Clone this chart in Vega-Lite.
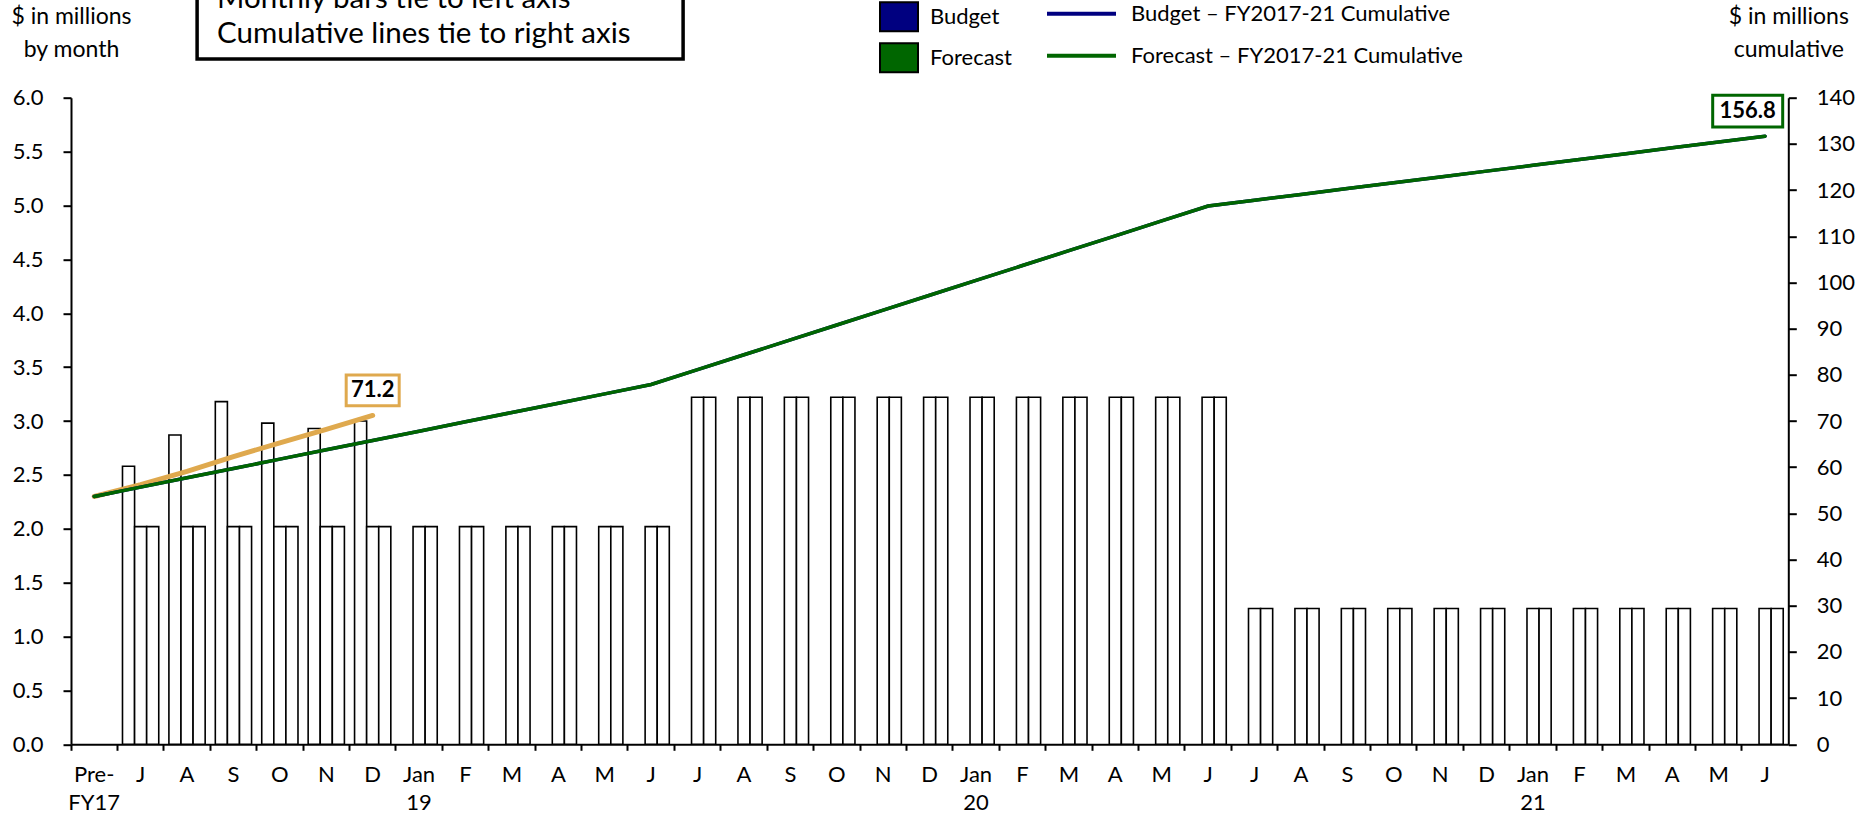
{
  "$schema": "https://vega.github.io/schema/vega-lite/v6.json",
  "width": 1717.3,
  "height": 646.6,
  "autosize": {"type": "none"},
  "padding": {"left": 71, "top": 97.7, "right": 69.7, "bottom": 72.7},
  "background": "white",
  "config": {
    "view": {"stroke": null},
    "font": "Lato",
    "axis": {
      "labelFont": "Lato", "labelColor": "black", "labelFontSize": 22,
      "titleFont": "Lato", "titleColor": "black", "titleFontSize": 23, "titleFontWeight": "normal",
      "domainColor": "black", "domainWidth": 2, "tickColor": "black", "tickWidth": 2,
      "grid": false, "labelOverlap": false, "labelFlush": false, "labelBound": false
    },
    "legend": {"labelFont": "Lato", "labelColor": "black", "labelFontSize": 22, "labelLimit": 600, "padding": 0}
  },
  "datasets": {
    "bars": [
      {"m": "J_Jul18", "s": "Actual", "v": 2.58},
      {"m": "A_Aug18", "s": "Actual", "v": 2.87},
      {"m": "S_Sep18", "s": "Actual", "v": 3.18},
      {"m": "O_Oct18", "s": "Actual", "v": 2.98},
      {"m": "N_Nov18", "s": "Actual", "v": 2.93},
      {"m": "D_Dec18", "s": "Actual", "v": 3.0},
      {"m": "J_Jul18", "s": "Budget", "v": 2.02}, {"m": "J_Jul18", "s": "Forecast", "v": 2.02},
      {"m": "A_Aug18", "s": "Budget", "v": 2.02}, {"m": "A_Aug18", "s": "Forecast", "v": 2.02},
      {"m": "S_Sep18", "s": "Budget", "v": 2.02}, {"m": "S_Sep18", "s": "Forecast", "v": 2.02},
      {"m": "O_Oct18", "s": "Budget", "v": 2.02}, {"m": "O_Oct18", "s": "Forecast", "v": 2.02},
      {"m": "N_Nov18", "s": "Budget", "v": 2.02}, {"m": "N_Nov18", "s": "Forecast", "v": 2.02},
      {"m": "D_Dec18", "s": "Budget", "v": 2.02}, {"m": "D_Dec18", "s": "Forecast", "v": 2.02},
      {"m": "Jan 19_Jan19", "s": "Budget", "v": 2.02}, {"m": "Jan 19_Jan19", "s": "Forecast", "v": 2.02},
      {"m": "F_Feb19", "s": "Budget", "v": 2.02}, {"m": "F_Feb19", "s": "Forecast", "v": 2.02},
      {"m": "M_Mar19", "s": "Budget", "v": 2.02}, {"m": "M_Mar19", "s": "Forecast", "v": 2.02},
      {"m": "A_Apr19", "s": "Budget", "v": 2.02}, {"m": "A_Apr19", "s": "Forecast", "v": 2.02},
      {"m": "M_May19", "s": "Budget", "v": 2.02}, {"m": "M_May19", "s": "Forecast", "v": 2.02},
      {"m": "J_Jun19", "s": "Budget", "v": 2.02}, {"m": "J_Jun19", "s": "Forecast", "v": 2.02},
      {"m": "J_Jul19", "s": "Budget", "v": 3.22}, {"m": "J_Jul19", "s": "Forecast", "v": 3.22},
      {"m": "A_Aug19", "s": "Budget", "v": 3.22}, {"m": "A_Aug19", "s": "Forecast", "v": 3.22},
      {"m": "S_Sep19", "s": "Budget", "v": 3.22}, {"m": "S_Sep19", "s": "Forecast", "v": 3.22},
      {"m": "O_Oct19", "s": "Budget", "v": 3.22}, {"m": "O_Oct19", "s": "Forecast", "v": 3.22},
      {"m": "N_Nov19", "s": "Budget", "v": 3.22}, {"m": "N_Nov19", "s": "Forecast", "v": 3.22},
      {"m": "D_Dec19", "s": "Budget", "v": 3.22}, {"m": "D_Dec19", "s": "Forecast", "v": 3.22},
      {"m": "Jan 20_Jan20", "s": "Budget", "v": 3.22}, {"m": "Jan 20_Jan20", "s": "Forecast", "v": 3.22},
      {"m": "F_Feb20", "s": "Budget", "v": 3.22}, {"m": "F_Feb20", "s": "Forecast", "v": 3.22},
      {"m": "M_Mar20", "s": "Budget", "v": 3.22}, {"m": "M_Mar20", "s": "Forecast", "v": 3.22},
      {"m": "A_Apr20", "s": "Budget", "v": 3.22}, {"m": "A_Apr20", "s": "Forecast", "v": 3.22},
      {"m": "M_May20", "s": "Budget", "v": 3.22}, {"m": "M_May20", "s": "Forecast", "v": 3.22},
      {"m": "J_Jun20", "s": "Budget", "v": 3.22}, {"m": "J_Jun20", "s": "Forecast", "v": 3.22},
      {"m": "J_Jul20", "s": "Budget", "v": 1.26}, {"m": "J_Jul20", "s": "Forecast", "v": 1.26},
      {"m": "A_Aug20", "s": "Budget", "v": 1.26}, {"m": "A_Aug20", "s": "Forecast", "v": 1.26},
      {"m": "S_Sep20", "s": "Budget", "v": 1.26}, {"m": "S_Sep20", "s": "Forecast", "v": 1.26},
      {"m": "O_Oct20", "s": "Budget", "v": 1.26}, {"m": "O_Oct20", "s": "Forecast", "v": 1.26},
      {"m": "N_Nov20", "s": "Budget", "v": 1.26}, {"m": "N_Nov20", "s": "Forecast", "v": 1.26},
      {"m": "D_Dec20", "s": "Budget", "v": 1.26}, {"m": "D_Dec20", "s": "Forecast", "v": 1.26},
      {"m": "Jan 21_Jan21", "s": "Budget", "v": 1.26}, {"m": "Jan 21_Jan21", "s": "Forecast", "v": 1.26},
      {"m": "F_Feb21", "s": "Budget", "v": 1.26}, {"m": "F_Feb21", "s": "Forecast", "v": 1.26},
      {"m": "M_Mar21", "s": "Budget", "v": 1.26}, {"m": "M_Mar21", "s": "Forecast", "v": 1.26},
      {"m": "A_Apr21", "s": "Budget", "v": 1.26}, {"m": "A_Apr21", "s": "Forecast", "v": 1.26},
      {"m": "M_May21", "s": "Budget", "v": 1.26}, {"m": "M_May21", "s": "Forecast", "v": 1.26},
      {"m": "J_Jun21", "s": "Budget", "v": 1.26}, {"m": "J_Jun21", "s": "Forecast", "v": 1.26}
    ],
    "cum": [
      {"m": "Pre- FY17", "cs": "Actual", "c": 53.66},
      {"m": "J_Jul18", "cs": "Actual", "c": 56.24},
      {"m": "A_Aug18", "cs": "Actual", "c": 59.11},
      {"m": "S_Sep18", "cs": "Actual", "c": 62.29},
      {"m": "O_Oct18", "cs": "Actual", "c": 65.27},
      {"m": "N_Nov18", "cs": "Actual", "c": 68.2},
      {"m": "D_Dec18", "cs": "Actual", "c": 71.2, "lbl": "71.2"},
      {"m": "Pre- FY17", "cs": "Budget", "c": 53.66}, {"m": "Pre- FY17", "cs": "Forecast", "c": 53.66},
      {"m": "J_Jul18", "cs": "Budget", "c": 55.68}, {"m": "J_Jul18", "cs": "Forecast", "c": 55.68},
      {"m": "A_Aug18", "cs": "Budget", "c": 57.7}, {"m": "A_Aug18", "cs": "Forecast", "c": 57.7},
      {"m": "S_Sep18", "cs": "Budget", "c": 59.72}, {"m": "S_Sep18", "cs": "Forecast", "c": 59.72},
      {"m": "O_Oct18", "cs": "Budget", "c": 61.74}, {"m": "O_Oct18", "cs": "Forecast", "c": 61.74},
      {"m": "N_Nov18", "cs": "Budget", "c": 63.76}, {"m": "N_Nov18", "cs": "Forecast", "c": 63.76},
      {"m": "D_Dec18", "cs": "Budget", "c": 65.78}, {"m": "D_Dec18", "cs": "Forecast", "c": 65.78},
      {"m": "Jan 19_Jan19", "cs": "Budget", "c": 67.8}, {"m": "Jan 19_Jan19", "cs": "Forecast", "c": 67.8},
      {"m": "F_Feb19", "cs": "Budget", "c": 69.82}, {"m": "F_Feb19", "cs": "Forecast", "c": 69.82},
      {"m": "M_Mar19", "cs": "Budget", "c": 71.84}, {"m": "M_Mar19", "cs": "Forecast", "c": 71.84},
      {"m": "A_Apr19", "cs": "Budget", "c": 73.86}, {"m": "A_Apr19", "cs": "Forecast", "c": 73.86},
      {"m": "M_May19", "cs": "Budget", "c": 75.88}, {"m": "M_May19", "cs": "Forecast", "c": 75.88},
      {"m": "J_Jun19", "cs": "Budget", "c": 77.9}, {"m": "J_Jun19", "cs": "Forecast", "c": 77.9},
      {"m": "J_Jul19", "cs": "Budget", "c": 81.12}, {"m": "J_Jul19", "cs": "Forecast", "c": 81.12},
      {"m": "A_Aug19", "cs": "Budget", "c": 84.34}, {"m": "A_Aug19", "cs": "Forecast", "c": 84.34},
      {"m": "S_Sep19", "cs": "Budget", "c": 87.56}, {"m": "S_Sep19", "cs": "Forecast", "c": 87.56},
      {"m": "O_Oct19", "cs": "Budget", "c": 90.78}, {"m": "O_Oct19", "cs": "Forecast", "c": 90.78},
      {"m": "N_Nov19", "cs": "Budget", "c": 94.0}, {"m": "N_Nov19", "cs": "Forecast", "c": 94.0},
      {"m": "D_Dec19", "cs": "Budget", "c": 97.22}, {"m": "D_Dec19", "cs": "Forecast", "c": 97.22},
      {"m": "Jan 20_Jan20", "cs": "Budget", "c": 100.44}, {"m": "Jan 20_Jan20", "cs": "Forecast", "c": 100.44},
      {"m": "F_Feb20", "cs": "Budget", "c": 103.66}, {"m": "F_Feb20", "cs": "Forecast", "c": 103.66},
      {"m": "M_Mar20", "cs": "Budget", "c": 106.88}, {"m": "M_Mar20", "cs": "Forecast", "c": 106.88},
      {"m": "A_Apr20", "cs": "Budget", "c": 110.1}, {"m": "A_Apr20", "cs": "Forecast", "c": 110.1},
      {"m": "M_May20", "cs": "Budget", "c": 113.32}, {"m": "M_May20", "cs": "Forecast", "c": 113.32},
      {"m": "J_Jun20", "cs": "Budget", "c": 116.54}, {"m": "J_Jun20", "cs": "Forecast", "c": 116.54},
      {"m": "J_Jul20", "cs": "Budget", "c": 117.8}, {"m": "J_Jul20", "cs": "Forecast", "c": 117.8},
      {"m": "A_Aug20", "cs": "Budget", "c": 119.06}, {"m": "A_Aug20", "cs": "Forecast", "c": 119.06},
      {"m": "S_Sep20", "cs": "Budget", "c": 120.32}, {"m": "S_Sep20", "cs": "Forecast", "c": 120.32},
      {"m": "O_Oct20", "cs": "Budget", "c": 121.58}, {"m": "O_Oct20", "cs": "Forecast", "c": 121.58},
      {"m": "N_Nov20", "cs": "Budget", "c": 122.84}, {"m": "N_Nov20", "cs": "Forecast", "c": 122.84},
      {"m": "D_Dec20", "cs": "Budget", "c": 124.1}, {"m": "D_Dec20", "cs": "Forecast", "c": 124.1},
      {"m": "Jan 21_Jan21", "cs": "Budget", "c": 125.36}, {"m": "Jan 21_Jan21", "cs": "Forecast", "c": 125.36},
      {"m": "F_Feb21", "cs": "Budget", "c": 126.62}, {"m": "F_Feb21", "cs": "Forecast", "c": 126.62},
      {"m": "M_Mar21", "cs": "Budget", "c": 127.88}, {"m": "M_Mar21", "cs": "Forecast", "c": 127.88},
      {"m": "A_Apr21", "cs": "Budget", "c": 129.14}, {"m": "A_Apr21", "cs": "Forecast", "c": 129.14},
      {"m": "M_May21", "cs": "Budget", "c": 130.4}, {"m": "M_May21", "cs": "Forecast", "c": 130.4},
      {"m": "J_Jun21", "cs": "Budget", "c": 131.66}, {"m": "J_Jun21", "cs": "Forecast", "c": 131.66, "lbl": "156.8"}
    ]
  },
  "encoding": {
    "x": {
      "field": "m", "type": "nominal",
      "scale": {"type": "band", "paddingInner": 0, "paddingOuter": 0, "domain": [
        "Pre- FY17",
        "J_Jul18", "A_Aug18", "S_Sep18", "O_Oct18", "N_Nov18", "D_Dec18", "Jan 19_Jan19", "F_Feb19", "M_Mar19", "A_Apr19", "M_May19", "J_Jun19",
        "J_Jul19", "A_Aug19", "S_Sep19", "O_Oct19", "N_Nov19", "D_Dec19", "Jan 20_Jan20", "F_Feb20", "M_Mar20", "A_Apr20", "M_May20", "J_Jun20",
        "J_Jul20", "A_Aug20", "S_Sep20", "O_Oct20", "N_Nov20", "D_Dec20", "Jan 21_Jan21", "F_Feb21", "M_Mar21", "A_Apr21", "M_May21", "J_Jun21"
      ]},
      "axis": {
        "orient": "bottom", "title": null, "labelAngle": 0,
        "bandPosition": 0,
        "tickSize": 6, "labelPadding": 14, "labelBaseline": "top", "labelAlign": "center",
        "labelLineHeight": 28,
        "labelExpr": "split(split(datum.value, '_')[0], ' ')"
      }
    }
  },
  "layer": [
    {
      "data": {"name": "bars"},
      "encoding": {
        "y": {
          "field": "v", "type": "quantitative",
          "scale": {"domain": [0, 6], "nice": false},
          "axis": {
            "orient": "left", "values": [0, 0.5, 1, 1.5, 2, 2.5, 3, 3.5, 4, 4.5, 5, 5.5, 6], "format": ".1f",
            "tickSize": 8, "labelPadding": 20,
            "title": ["$ in millions", "by month"], "titleAngle": 0, "titleAlign": "center",
            "titleBaseline": "alphabetic", "titleX": 0, "titleY": -74, "titleLineHeight": 33
          }
        }
      },
      "layer": [
        {
          "mark": {"type": "bar", "fill": "white", "stroke": "black", "strokeWidth": 1.6},
          "encoding": {
            "xOffset": {"field": "s", "type": "nominal", "scale": {"domain": ["Actual", "Budget", "Forecast"], "paddingInner": 0, "paddingOuter": 0.42}}
          }
        },
        {
          "transform": [{"filter": "datum.s !== 'Actual'"}],
          "mark": {"type": "square", "opacity": 0, "size": 0},
          "encoding": {
            "fill": {
              "field": "s", "type": "nominal",
              "scale": {"range": ["#000080", "#006600"]},
              "legend": {
                "orient": "none", "legendX": 808, "legendY": -101, "title": null,
                "symbolType": "M-1,-0.76H1V0.76H-1Z", "symbolSize": 1444,
                "symbolStrokeColor": "black", "symbolStrokeWidth": 2, "symbolOpacity": 1,
                "labelOffset": 11, "rowPadding": 2
              }
            }
          }
        }
      ]
    },
    {
      "data": {"name": "cum"},
      "encoding": {
        "y": {
          "field": "c", "type": "quantitative",
          "scale": {"domain": [0, 140], "nice": false},
          "axis": {
            "orient": "right", "values": [0, 10, 20, 30, 40, 50, 60, 70, 80, 90, 100, 110, 120, 130, 140], "format": "d",
            "tickSize": 8, "labelPadding": 20,
            "title": ["$ in millions", "cumulative"], "titleAngle": 0, "titleAlign": "center",
            "titleBaseline": "alphabetic", "titleX": 0, "titleY": -74, "titleLineHeight": 33
          }
        }
      },
      "layer": [
        {
          "transform": [{"filter": "datum.cs === 'Actual'"}],
          "mark": {"type": "line", "stroke": "#DFA94E", "strokeWidth": 5, "strokeCap": "round"}
        },
        {
          "transform": [{"filter": "datum.cs !== 'Actual'"}],
          "mark": {"type": "line", "strokeWidth": 3.5, "strokeCap": "round"},
          "encoding": {
            "stroke": {
              "field": "cs", "type": "nominal",
              "scale": {"range": ["#000080", "#006600"]},
              "legend": {
                "orient": "none", "legendX": 997, "legendY": -97.5, "title": null,
                "symbolType": "M-3,0H3", "symbolSize": 529, "symbolStrokeWidth": 4,
                "labelOffset": 36, "rowPadding": 17,
                "labelExpr": "datum.label + ' – FY2017-21 Cumulative'"
              }
            }
          }
        },
        {
          "transform": [{"filter": "datum.cs === 'Actual' && datum.lbl"}],
          "mark": {"type": "point", "shape": "M-1,-0.58H1V0.58H-1Z", "size": 2809, "filled": true, "fill": "white", "stroke": "#DFA94E", "strokeWidth": 3, "opacity": 1, "yOffset": -25}
        },
        {
          "transform": [{"filter": "datum.cs === 'Actual' && datum.lbl"}],
          "mark": {"type": "text", "fontWeight": "bold", "fontSize": 22, "color": "black", "align": "center", "baseline": "middle", "yOffset": -25},
          "encoding": {"text": {"field": "lbl"}}
        },
        {
          "transform": [{"filter": "datum.cs === 'Forecast' && datum.lbl"}],
          "mark": {"type": "point", "shape": "M-1,-0.453H1V0.453H-1Z", "size": 4900, "filled": true, "fill": "white", "stroke": "#006600", "strokeWidth": 3, "opacity": 1, "xOffset": -17.4, "yOffset": -25}
        },
        {
          "transform": [{"filter": "datum.cs === 'Forecast' && datum.lbl"}],
          "mark": {"type": "text", "fontWeight": "bold", "fontSize": 22, "color": "black", "align": "center", "baseline": "middle", "xOffset": -17.4, "yOffset": -25},
          "encoding": {"text": {"field": "lbl"}}
        },
        {
          "transform": [{"filter": "datum.cs === 'Budget' && datum.m === 'Jan 19_Jan19'"}],
          "mark": {"type": "point", "shape": "M-1,-0.142H1V0.142H-1Z", "size": 236196, "filled": true, "fill": "white", "stroke": "black", "strokeWidth": 3.5, "opacity": 1, "xOffset": 21, "yOffset": -73.2},
          "encoding": {
            "y": {
              "datum": 140, "type": "quantitative",
              "scale": {"domain": [0, 140], "nice": false},
              "axis": {
                "orient": "right", "values": [0, 10, 20, 30, 40, 50, 60, 70, 80, 90, 100, 110, 120, 130, 140], "format": "d",
                "tickSize": 8, "labelPadding": 20,
                "title": ["$ in millions", "cumulative"], "titleAngle": 0, "titleAlign": "center",
                "titleBaseline": "alphabetic", "titleX": 0, "titleY": -74, "titleLineHeight": 33
              }
            }
          }
        },
        {
          "transform": [{"filter": "datum.cs === 'Budget' && datum.m === 'Jan 19_Jan19'"}],
          "mark": {"type": "text", "fontSize": 29.5, "color": "black", "align": "left", "baseline": "alphabetic", "lineHeight": 34.4, "xOffset": -202, "yOffset": -89.4},
          "encoding": {
            "y": {
              "datum": 140, "type": "quantitative",
              "scale": {"domain": [0, 140], "nice": false},
              "axis": {
                "orient": "right", "values": [0, 10, 20, 30, 40, 50, 60, 70, 80, 90, 100, 110, 120, 130, 140], "format": "d",
                "tickSize": 8, "labelPadding": 20,
                "title": ["$ in millions", "cumulative"], "titleAngle": 0, "titleAlign": "center",
                "titleBaseline": "alphabetic", "titleX": 0, "titleY": -74, "titleLineHeight": 33
              }
            },
            "text": {"value": ["Monthly bars tie to left axis", "Cumulative lines tie to right axis"]}
          }
        }
      ]
    }
  ],
  "resolve": {"scale": {"y": "independent"}}
}
